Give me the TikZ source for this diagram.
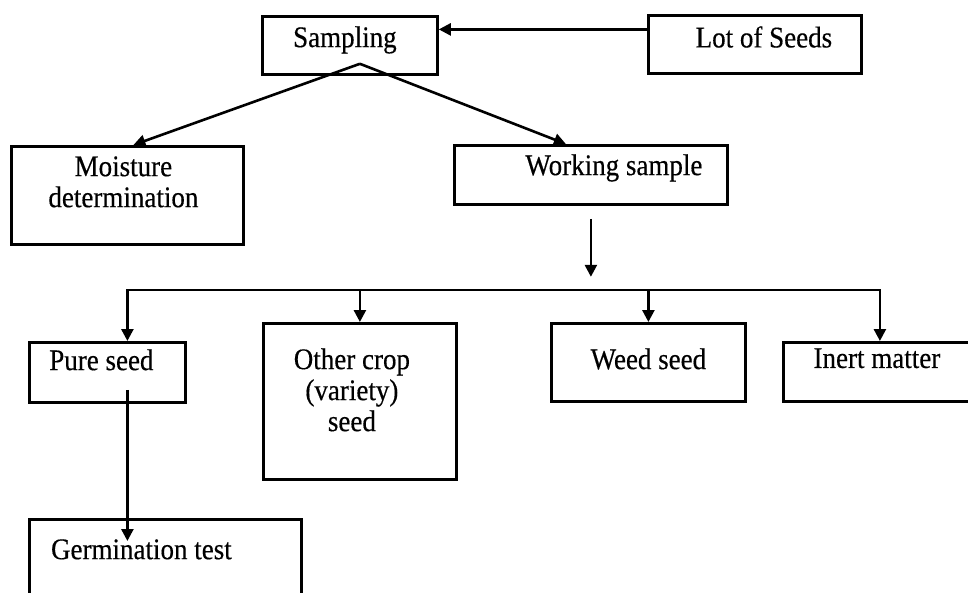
\documentclass[tikz,border=0pt]{standalone}
\usepackage{fontspec}
\setmainfont[FakeStretch=0.9,FakeBold=0.4]{Liberation Serif}
\usetikzlibrary{arrows.meta}

\begin{document}
\begin{tikzpicture}[x=1pt,y=-1pt,>={Triangle[length=12pt,width=12pt]},line width=2.6pt,
    box/.style={draw,line width=2.8pt,anchor=north west,inner sep=0pt},
    lbl/.style={anchor=north,inner sep=0pt,align=center,font=\fontsize{30}{31}\selectfont}]
    \clip (0,0) rectangle (968,593);

    \node[box,minimum width=175pt,minimum height=58pt,label={[lbl,xshift=-5pt,yshift=-10pt]north:Sampling}] (samp) at (261,15) {};
    \node[box,minimum width=213pt,minimum height=58pt,label={[lbl,xshift=9pt,yshift=-11pt]north:Lot of Seeds}] (lot) at (647,14) {};
    \node[box,minimum width=232pt,minimum height=98pt,label={[lbl,xshift=-4pt,yshift=-10pt]north:Moisture\\determination}] (moist) at (10,145) {};
    \node[box,minimum width=273pt,minimum height=59pt,label={[lbl,xshift=23pt,yshift=-9pt]north:Working sample}] (work) at (453,144) {};
    \node[box,minimum width=156pt,minimum height=60pt,label={[lbl,xshift=-6pt,yshift=-7pt]north:Pure seed}] (pure) at (28,341) {};
    \node[box,minimum width=193pt,minimum height=156pt,label={[lbl,xshift=-8pt,yshift=-25pt]north:Other crop\\(variety)\\seed}] (other) at (262,322) {};
    \node[box,minimum width=194pt,minimum height=78pt,label={[lbl,yshift=-25pt]north:Weed seed}] (weed) at (550,322) {};
    \node[box,minimum width=193pt,minimum height=59pt,label={[lbl,xshift=-3pt,yshift=-6pt]north:Inert matter}] (inert) at (782,341) {};
    \node[box,minimum width=272pt,minimum height=92pt,label={[lbl,xshift=-24pt,yshift=-20pt]north:Germination test}] (germ) at (28,518) {};

    \coordinate (apex) at ([xshift=10pt,yshift=12pt]samp.south);
    \coordinate (w1) at ([yshift=-13pt]work.south);
    \coordinate (w2) at ([yshift=-71pt]work.south);
    \coordinate (bus) at (0,290);

    \path[->]
    ([yshift=15pt]lot.west) edge ([yshift=15pt]lot.west -| samp.east)
    (apex) edge ([xshift=6pt]moist.north)
    (apex) edge ([xshift=-25pt]work.north)
    (w1) edge (w2)
    (other.north |- bus) edge (other.north)
    (weed.north |- bus) edge (weed.north)
    ([xshift=20pt,yshift=14pt]pure.south) edge ([xshift=-38pt,yshift=-23pt]germ.north)
    ;
    \draw[->] (other.north |- bus) -| ([xshift=20pt]pure.north);
    \draw[->] (other.north |- bus) -| (inert.north);
\end{tikzpicture}
\end{document}
